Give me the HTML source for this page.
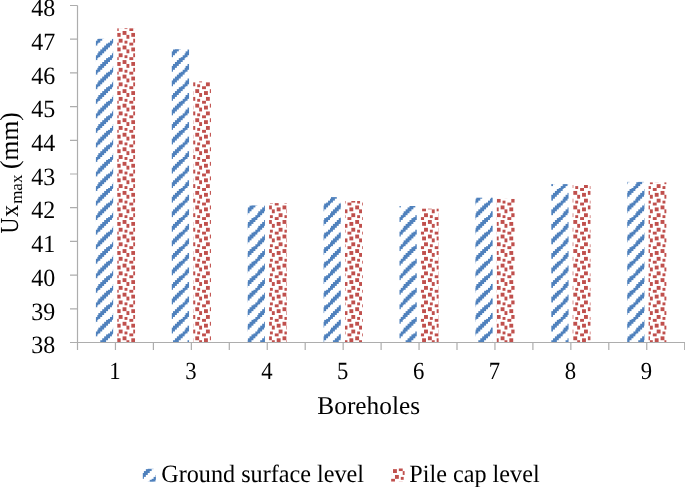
<!DOCTYPE html><html><head><meta charset="utf-8"><style>html,body{margin:0;padding:0;background:#fff}svg{display:block;will-change:transform;text-rendering:geometricPrecision}</style></head><body>
<svg width="685" height="487" viewBox="0 0 685 487">
<defs><pattern id="pb" patternUnits="userSpaceOnUse" x="2.380" y="5.800" width="14.5400" height="14.5400"><g fill="#4F81BD" shape-rendering="crispEdges"><rect x="0.0000" y="0.0000" width="1.8175" height="1.8175"/><rect x="10.9050" y="0.0000" width="3.6350" height="1.8175"/><rect x="9.0875" y="1.8175" width="5.4525" height="1.8175"/><rect x="7.2700" y="3.6350" width="5.4525" height="1.8175"/><rect x="5.4525" y="5.4525" width="5.4525" height="1.8175"/><rect x="3.6350" y="7.2700" width="5.4525" height="1.8175"/><rect x="1.8175" y="9.0875" width="5.4525" height="1.8175"/><rect x="0.0000" y="10.9050" width="5.4525" height="1.8175"/><rect x="0.0000" y="12.7225" width="3.6350" height="1.8175"/><rect x="12.7225" y="12.7225" width="1.8175" height="1.8175"/></g></pattern><pattern id="pr" patternUnits="userSpaceOnUse" x="2.380" y="5.800" width="14.5400" height="14.5400"><g fill="#C0504D" shape-rendering="crispEdges"><rect x="0.0000" y="0.0000" width="1.8175" height="1.8175"/><rect x="7.2700" y="0.0000" width="3.6350" height="1.8175"/><rect x="12.7225" y="0.0000" width="1.8175" height="1.8175"/><rect x="7.2700" y="1.8175" width="3.6350" height="1.8175"/><rect x="0.0000" y="3.6350" width="3.6350" height="1.8175"/><rect x="0.0000" y="5.4525" width="3.6350" height="1.8175"/><rect x="5.4525" y="5.4525" width="3.6350" height="1.8175"/><rect x="5.4525" y="7.2700" width="3.6350" height="1.8175"/><rect x="10.9050" y="7.2700" width="3.6350" height="1.8175"/><rect x="10.9050" y="9.0875" width="3.6350" height="1.8175"/><rect x="3.6350" y="10.9050" width="3.6350" height="1.8175"/><rect x="0.0000" y="12.7225" width="1.8175" height="1.8175"/><rect x="3.6350" y="12.7225" width="3.6350" height="1.8175"/><rect x="12.7225" y="12.7225" width="1.8175" height="1.8175"/></g></pattern></defs>
<rect width="685" height="487" fill="#fff"/>
<rect x="95.90" y="38.80" width="17.25" height="303.70" fill="url(#pb)"/>
<rect x="117.30" y="28.30" width="17.75" height="314.20" fill="url(#pr)"/>
<rect x="171.80" y="49.20" width="17.25" height="293.30" fill="url(#pb)"/>
<rect x="193.20" y="81.40" width="17.75" height="261.10" fill="url(#pr)"/>
<rect x="247.70" y="205.40" width="17.25" height="137.10" fill="url(#pb)"/>
<rect x="269.10" y="203.10" width="17.75" height="139.40" fill="url(#pr)"/>
<rect x="323.60" y="197.10" width="17.25" height="145.40" fill="url(#pb)"/>
<rect x="345.00" y="201.00" width="17.75" height="141.50" fill="url(#pr)"/>
<rect x="399.50" y="206.00" width="17.25" height="136.50" fill="url(#pb)"/>
<rect x="420.90" y="208.70" width="17.75" height="133.80" fill="url(#pr)"/>
<rect x="475.40" y="197.70" width="17.25" height="144.80" fill="url(#pb)"/>
<rect x="496.80" y="198.90" width="17.75" height="143.60" fill="url(#pr)"/>
<rect x="551.30" y="184.10" width="17.25" height="158.40" fill="url(#pb)"/>
<rect x="572.70" y="185.00" width="17.75" height="157.50" fill="url(#pr)"/>
<rect x="627.20" y="181.90" width="17.25" height="160.60" fill="url(#pb)"/>
<rect x="648.60" y="182.40" width="17.75" height="160.10" fill="url(#pr)"/>
<path d="M77.50 5.50V350.00M77.50 342.50H685M70.00 5.50H77.50M70.00 39.20H77.50M70.00 72.90H77.50M70.00 106.60H77.50M70.00 140.30H77.50M70.00 174.00H77.50M70.00 207.70H77.50M70.00 241.40H77.50M70.00 275.10H77.50M70.00 308.80H77.50M70.00 342.50H77.50M115.45 342.50V350.00M153.40 342.50V350.00M191.35 342.50V350.00M229.30 342.50V350.00M267.25 342.50V350.00M305.20 342.50V350.00M343.15 342.50V350.00M381.10 342.50V350.00M419.05 342.50V350.00M457.00 342.50V350.00M494.95 342.50V350.00M532.90 342.50V350.00M570.85 342.50V350.00M608.80 342.50V350.00M646.75 342.50V350.00M684.70 342.50V350.00" stroke="#adadad" stroke-width="1.20" fill="none"/>
<text transform="translate(55.30,16.20) scale(0.9670,1.0000)" text-anchor="end" style="font-family:'Liberation Serif',serif;font-size:24.80px">48</text>
<text transform="translate(55.30,49.90) scale(0.9670,1.0000)" text-anchor="end" style="font-family:'Liberation Serif',serif;font-size:24.80px">47</text>
<text transform="translate(55.30,83.60) scale(0.9670,1.0000)" text-anchor="end" style="font-family:'Liberation Serif',serif;font-size:24.80px">46</text>
<text transform="translate(55.30,117.30) scale(0.9670,1.0000)" text-anchor="end" style="font-family:'Liberation Serif',serif;font-size:24.80px">45</text>
<text transform="translate(55.30,151.00) scale(0.9670,1.0000)" text-anchor="end" style="font-family:'Liberation Serif',serif;font-size:24.80px">44</text>
<text transform="translate(55.30,184.70) scale(0.9670,1.0000)" text-anchor="end" style="font-family:'Liberation Serif',serif;font-size:24.80px">43</text>
<text transform="translate(55.30,218.40) scale(0.9670,1.0000)" text-anchor="end" style="font-family:'Liberation Serif',serif;font-size:24.80px">42</text>
<text transform="translate(55.30,252.10) scale(0.9670,1.0000)" text-anchor="end" style="font-family:'Liberation Serif',serif;font-size:24.80px">41</text>
<text transform="translate(55.30,285.80) scale(0.9670,1.0000)" text-anchor="end" style="font-family:'Liberation Serif',serif;font-size:24.80px">40</text>
<text transform="translate(55.30,319.50) scale(0.9670,1.0000)" text-anchor="end" style="font-family:'Liberation Serif',serif;font-size:24.80px">39</text>
<text transform="translate(55.30,353.20) scale(0.9670,1.0000)" text-anchor="end" style="font-family:'Liberation Serif',serif;font-size:24.80px">38</text>
<text transform="translate(115.05,379.00) scale(0.9200,1.0000)" text-anchor="middle" style="font-family:'Liberation Serif',serif;font-size:24.70px">1</text>
<text transform="translate(190.95,379.00) scale(0.9200,1.0000)" text-anchor="middle" style="font-family:'Liberation Serif',serif;font-size:24.70px">3</text>
<text transform="translate(266.85,379.00) scale(0.9200,1.0000)" text-anchor="middle" style="font-family:'Liberation Serif',serif;font-size:24.70px">4</text>
<text transform="translate(342.75,379.00) scale(0.9200,1.0000)" text-anchor="middle" style="font-family:'Liberation Serif',serif;font-size:24.70px">5</text>
<text transform="translate(418.65,379.00) scale(0.9200,1.0000)" text-anchor="middle" style="font-family:'Liberation Serif',serif;font-size:24.70px">6</text>
<text transform="translate(494.55,379.00) scale(0.9200,1.0000)" text-anchor="middle" style="font-family:'Liberation Serif',serif;font-size:24.70px">7</text>
<text transform="translate(570.45,379.00) scale(0.9200,1.0000)" text-anchor="middle" style="font-family:'Liberation Serif',serif;font-size:24.70px">8</text>
<text transform="translate(646.35,379.00) scale(0.9200,1.0000)" text-anchor="middle" style="font-family:'Liberation Serif',serif;font-size:24.70px">9</text>
<text transform="translate(368.70,413.70) scale(0.9900,1.0000)" text-anchor="middle" style="font-family:'Liberation Serif',serif;font-size:25.60px">Boreholes</text>
<g transform="translate(18.10,233.40) rotate(-90)">
<text transform="translate(0.00,0.00) scale(0.8400,1.0000)" text-anchor="start" style="font-family:'Liberation Serif',serif;font-size:26.00px">U</text>
</g>
<g transform="translate(17.70,216.90) rotate(-90)">
<text transform="translate(0.00,0.00) scale(0.9400,1.0000)" text-anchor="start" style="font-family:'Liberation Serif',serif;font-size:26.00px">x</text>
</g>
<g transform="translate(21.70,203.85) rotate(-90)">
<text transform="translate(0.00,0.00) scale(0.9980,1.0000)" text-anchor="start" style="font-family:'Liberation Serif',serif;font-size:17.00px">max</text>
</g>
<g transform="translate(18.00,168.90) rotate(-90)">
<text transform="translate(0.00,0.00) scale(0.9800,1.0000)" text-anchor="start" style="font-family:'Liberation Serif',serif;font-size:26.00px">(mm)</text>
</g>
<rect x="142.8" y="468.8" width="13.1" height="12.9" fill="url(#pb)"/>
<text transform="translate(161.20,481.50) scale(0.9720,1.0000)" text-anchor="start" style="font-family:'Liberation Serif',serif;font-size:24.90px">Ground surface level</text>
<rect x="391.1" y="468.5" width="13.5" height="13.2" fill="url(#pr)"/>
<text transform="translate(409.30,481.50) scale(0.9720,1.0000)" text-anchor="start" style="font-family:'Liberation Serif',serif;font-size:24.90px">Pile cap level</text>
</svg></body></html>
